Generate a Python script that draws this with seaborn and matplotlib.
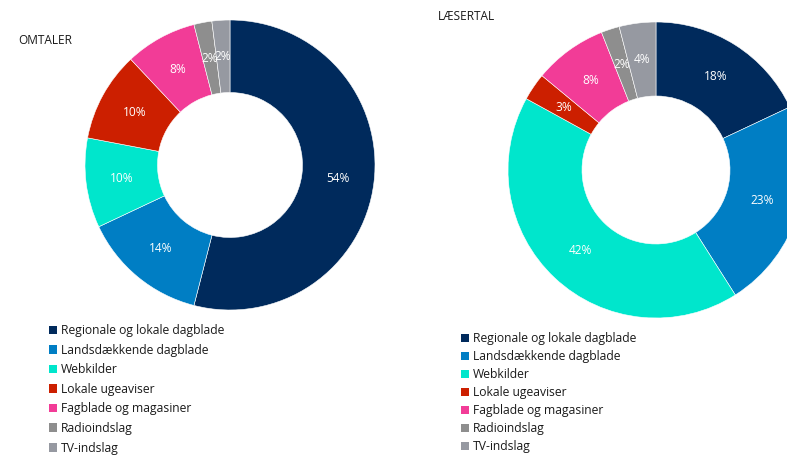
import seaborn as sns
import matplotlib.pyplot as plt
from matplotlib.patches import Patch

categories = ["Regionale og lokale dagblade", "Landsdækkende dagblade", "Webkilder",
              "Lokale ugeaviser", "Fagblade og magasiner", "Radioindslag", "TV-indslag"]
omtaler = [54, 14, 10, 10, 8, 2, 2]
laesertal = [18, 23, 42, 3, 8, 2, 4]
colors = ["#002A5C", "#007EC4", "#00E6CC", "#CC1F00", "#F23C97", "#8E8E8E", "#9699A1"]

sns.set_theme(style="white")
plt.rcParams['font.family'] = ['Open Sans', 'DejaVu Sans']

W, H = 787, 455
fig = plt.figure(figsize=(W / 100, H / 100), dpi=100)


def px_axes(cx, cy, r):
    # axes box in pixel coords (top-left origin) around a pie centre
    return fig.add_axes([(cx - r) / W, (H - cy - r) / H, 2 * r / W, 2 * r / H])


def donut(ax, values, title, title_xy):
    ax.pie(values, colors=colors, startangle=90, counterclock=False,
           autopct=lambda p: f"{p:.0f}%", pctdistance=0.75,
           wedgeprops=dict(width=0.5, edgecolor="white", linewidth=0.4),
           textprops=dict(color="white", fontsize=8.6))
    ax.set_xlim(-1, 1)
    ax.set_ylim(-1, 1)
    ax.set_aspect("equal")
    ax.axis("off")
    fig.text(title_xy[0] / W, 1 - title_xy[1] / H, title, fontsize=8.6,
             color="#1a1a1a", va="center", ha="left")


ax1 = px_axes(230, 165, 145)
donut(ax1, omtaler, "OMTALER", (18, 41))

ax2 = px_axes(656, 170, 148)
donut(ax2, laesertal, "LÆSERTAL", (438, 16))

handles = [Patch(facecolor=c, edgecolor="none") for c in colors]


def legend(x, y, spacing):
    fig.legend(handles, categories, loc="upper left",
               bbox_to_anchor=(x / W, 1 - y / H), frameon=False,
               fontsize=8.7, handlelength=0.7, handleheight=0.7,
               handletextpad=0.3, labelspacing=spacing, borderpad=0,
               borderaxespad=0, labelcolor="#1a1a1a")


legend(49, 324, 0.545)
legend(461, 332, 0.42)

fig.savefig("out.png", dpi=100)
